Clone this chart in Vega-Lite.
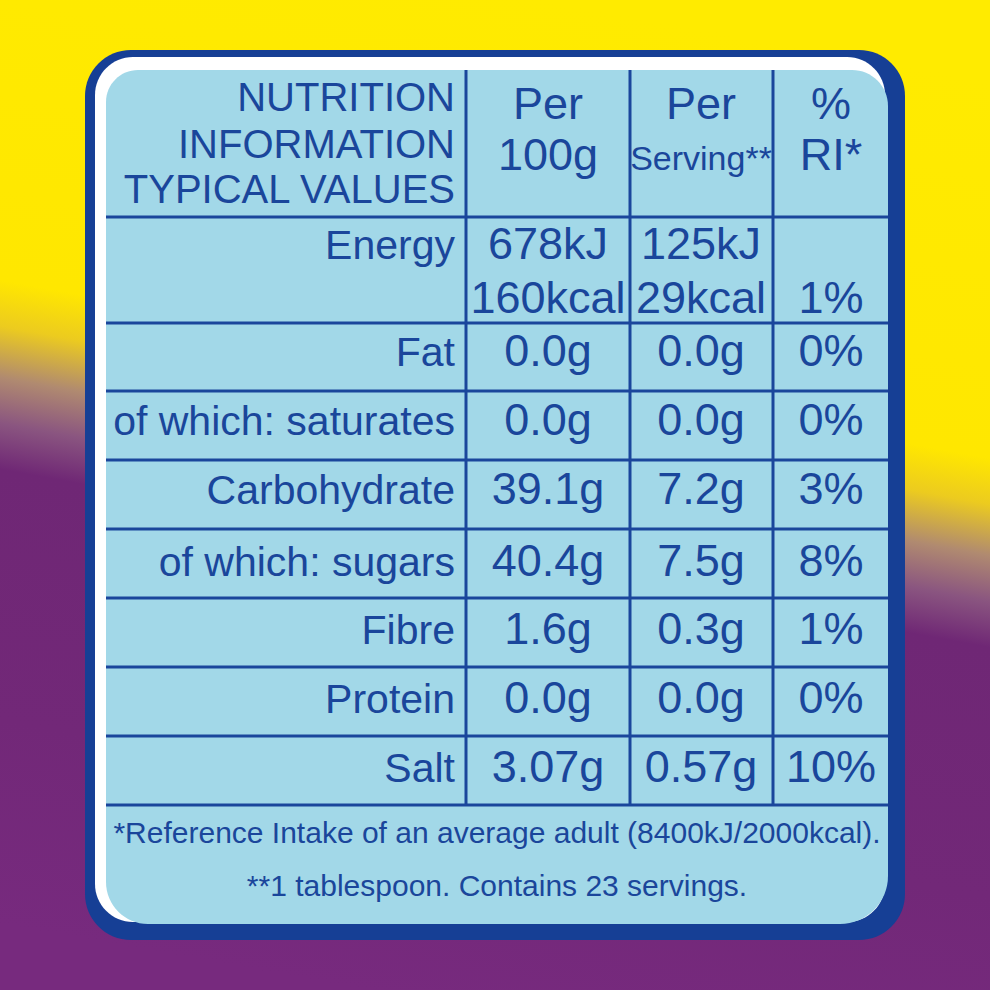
{
  "$schema": "https://vega.github.io/schema/vega-lite/v6.json",
  "width": 990,
  "height": 990,
  "padding": 0,
  "autosize": "none",
  "background": "#6f2775",
  "config": {"view": {"stroke": null}},
  "datasets": {
    "frame": [{"part": "label"}],
    "hlines": [{"edge": 4}, {"edge": 5}, {"edge": 6}, {"edge": 7}, {"edge": 8}, {"edge": 9}, {"edge": 10}, {"edge": 11}, {"edge": 12}],
    "vlines": [{"edge": 4}, {"edge": 5}, {"edge": 6}],
    "cells": [
      {"line": 0, "col": 0, "text": "NUTRITION"},
      {"line": 2, "col": 0, "text": "INFORMATION"},
      {"line": 4, "col": 0, "text": "TYPICAL VALUES"},
      {"line": 1, "col": 1, "text": "Per"},
      {"line": 3, "col": 1, "text": "100g"},
      {"line": 1, "col": 2, "text": "Per"},
      {"line": 3, "col": 2, "text": "Serving**"},
      {"line": 1, "col": 3, "text": "%"},
      {"line": 3, "col": 3, "text": "RI*"},
      {"line": 5, "col": 0, "text": "Energy"},
      {"line": 5, "col": 1, "text": "678kJ"},
      {"line": 6, "col": 1, "text": "160kcal"},
      {"line": 5, "col": 2, "text": "125kJ"},
      {"line": 6, "col": 2, "text": "29kcal"},
      {"line": 6, "col": 3, "text": "1%"},
      {"line": 7, "col": 0, "text": "Fat"},
      {"line": 7, "col": 1, "text": "0.0g"},
      {"line": 7, "col": 2, "text": "0.0g"},
      {"line": 7, "col": 3, "text": "0%"},
      {"line": 8, "col": 0, "text": "of which: saturates"},
      {"line": 8, "col": 1, "text": "0.0g"},
      {"line": 8, "col": 2, "text": "0.0g"},
      {"line": 8, "col": 3, "text": "0%"},
      {"line": 9, "col": 0, "text": "Carbohydrate"},
      {"line": 9, "col": 1, "text": "39.1g"},
      {"line": 9, "col": 2, "text": "7.2g"},
      {"line": 9, "col": 3, "text": "3%"},
      {"line": 10, "col": 0, "text": "of which: sugars"},
      {"line": 10, "col": 1, "text": "40.4g"},
      {"line": 10, "col": 2, "text": "7.5g"},
      {"line": 10, "col": 3, "text": "8%"},
      {"line": 11, "col": 0, "text": "Fibre"},
      {"line": 11, "col": 1, "text": "1.6g"},
      {"line": 11, "col": 2, "text": "0.3g"},
      {"line": 11, "col": 3, "text": "1%"},
      {"line": 12, "col": 0, "text": "Protein"},
      {"line": 12, "col": 1, "text": "0.0g"},
      {"line": 12, "col": 2, "text": "0.0g"},
      {"line": 12, "col": 3, "text": "0%"},
      {"line": 13, "col": 0, "text": "Salt"},
      {"line": 13, "col": 1, "text": "3.07g"},
      {"line": 13, "col": 2, "text": "0.57g"},
      {"line": 13, "col": 3, "text": "10%"},
      {"line": 14, "col": 4, "text": "*Reference Intake of an average adult (8400kJ/2000kcal)."},
      {"line": 15, "col": 4, "text": "**1 tablespoon. Contains 23 servings."}
    ]
  },
  "resolve": {"scale": {"x": "independent", "y": "independent"}},
  "layer": [
    {
      "data": {"name": "frame"},
      "mark": {"type": "rect", "color": {"gradient": "linear", "x1": 0.55, "y1": 0, "x2": 0.37, "y2": 1,
        "stops": [
          {"offset": 0, "color": "#ffeb00"},
          {"offset": 0.37, "color": "#ffe700"},
          {"offset": 0.415, "color": "#eccb1f"},
          {"offset": 0.465, "color": "#b08a70"},
          {"offset": 0.51, "color": "#8a5580"},
          {"offset": 0.555, "color": "#6f2775"},
          {"offset": 0.8, "color": "#722878"},
          {"offset": 1, "color": "#772a7e"}
        ]}},
      "encoding": {
        "x": {"datum": 0, "type": "quantitative", "axis": null, "scale": {"type": "linear", "domain": [0, 1, 2, 3, 4, 5, 6, 7, 8, 9, 10], "range": [0, 85, 95, 106, 466, 630, 773, 885, 888, 905, 990], "zero": false, "nice": false}},
        "x2": {"datum": 10},
        "y": {"datum": 0, "type": "quantitative", "axis": null, "scale": {"type": "linear", "domain": [0, 1, 2, 3, 4, 5, 6, 7, 8, 9, 10, 11, 12, 13, 14, 15, 16], "range": [0, 50, 57, 70, 217, 323, 391, 460, 529, 598, 667, 736, 805, 922, 924, 940, 990], "zero": false, "nice": false}},
        "y2": {"datum": 16}
      }
    },
    {
      "data": {"name": "frame"},
      "mark": {"type": "rect", "color": "#163f95", "cornerRadius": 46},
      "encoding": {
        "x": {"datum": 1, "type": "quantitative", "axis": null, "scale": {"type": "linear", "domain": [0, 1, 2, 3, 4, 5, 6, 7, 8, 9, 10], "range": [0, 85, 95, 106, 466, 630, 773, 885, 888, 905, 990], "zero": false, "nice": false}},
        "x2": {"datum": 9},
        "y": {"datum": 1, "type": "quantitative", "axis": null, "scale": {"type": "linear", "domain": [0, 1, 2, 3, 4, 5, 6, 7, 8, 9, 10, 11, 12, 13, 14, 15, 16], "range": [0, 50, 57, 70, 217, 323, 391, 460, 529, 598, 667, 736, 805, 922, 924, 940, 990], "zero": false, "nice": false}},
        "y2": {"datum": 15}
      }
    },
    {
      "data": {"name": "frame"},
      "mark": {"type": "rect", "color": "#ffffff", "cornerRadius": 38},
      "encoding": {
        "x": {"datum": 2, "type": "quantitative", "axis": null, "scale": {"type": "linear", "domain": [0, 1, 2, 3, 4, 5, 6, 7, 8, 9, 10], "range": [0, 85, 95, 106, 466, 630, 773, 885, 888, 905, 990], "zero": false, "nice": false}},
        "x2": {"datum": 7},
        "y": {"datum": 2, "type": "quantitative", "axis": null, "scale": {"type": "linear", "domain": [0, 1, 2, 3, 4, 5, 6, 7, 8, 9, 10, 11, 12, 13, 14, 15, 16], "range": [0, 50, 57, 70, 217, 323, 391, 460, 529, 598, 667, 736, 805, 922, 924, 940, 990], "zero": false, "nice": false}},
        "y2": {"datum": 13}
      }
    },
    {
      "data": {"name": "frame"},
      "mark": {"type": "rect", "color": "#a2d8e8", "cornerRadiusTopLeft": 32, "cornerRadiusTopRight": 36, "cornerRadiusBottomLeft": 42, "cornerRadiusBottomRight": 48},
      "encoding": {
        "x": {"datum": 3, "type": "quantitative", "axis": null, "scale": {"type": "linear", "domain": [0, 1, 2, 3, 4, 5, 6, 7, 8, 9, 10], "range": [0, 85, 95, 106, 466, 630, 773, 885, 888, 905, 990], "zero": false, "nice": false}},
        "x2": {"datum": 8},
        "y": {"datum": 3, "type": "quantitative", "axis": null, "scale": {"type": "linear", "domain": [0, 1, 2, 3, 4, 5, 6, 7, 8, 9, 10, 11, 12, 13, 14, 15, 16], "range": [0, 50, 57, 70, 217, 323, 391, 460, 529, 598, 667, 736, 805, 922, 924, 940, 990], "zero": false, "nice": false}},
        "y2": {"datum": 14}
      }
    },
    {
      "data": {"name": "hlines"},
      "mark": {"type": "rule", "color": "#1a469b", "strokeWidth": 3},
      "encoding": {
        "x": {"datum": 3, "type": "quantitative", "axis": null, "scale": {"type": "linear", "domain": [0, 1, 2, 3, 4, 5, 6, 7, 8, 9, 10], "range": [0, 85, 95, 106, 466, 630, 773, 885, 888, 905, 990], "zero": false, "nice": false}},
        "x2": {"datum": 8},
        "y": {"field": "edge", "type": "quantitative", "axis": null, "scale": {"type": "linear", "domain": [0, 1, 2, 3, 4, 5, 6, 7, 8, 9, 10, 11, 12, 13, 14, 15, 16], "range": [0, 50, 57, 70, 217, 323, 391, 460, 529, 598, 667, 736, 805, 922, 924, 940, 990], "zero": false, "nice": false}}
      }
    },
    {
      "data": {"name": "vlines"},
      "mark": {"type": "rule", "color": "#1a469b", "strokeWidth": 3},
      "encoding": {
        "x": {"field": "edge", "type": "quantitative", "axis": null, "scale": {"type": "linear", "domain": [0, 1, 2, 3, 4, 5, 6, 7, 8, 9, 10], "range": [0, 85, 95, 106, 466, 630, 773, 885, 888, 905, 990], "zero": false, "nice": false}},
        "y": {"datum": 3, "type": "quantitative", "axis": null, "scale": {"type": "linear", "domain": [0, 1, 2, 3, 4, 5, 6, 7, 8, 9, 10, 11, 12, 13, 14, 15, 16], "range": [0, 50, 57, 70, 217, 323, 391, 460, 529, 598, 667, 736, 805, 922, 924, 940, 990], "zero": false, "nice": false}},
        "y2": {"datum": 12}
      }
    },
    {
      "data": {"name": "cells"},
      "transform": [{"filter": "datum.col === 0"}],
      "mark": {"type": "text", "align": "right", "baseline": "alphabetic", "font": "Liberation Sans", "color": "#1a469b", "dx": -11},
      "encoding": {
        "x": {"field": "col", "type": "quantitative", "axis": null, "scale": {"type": "linear", "domain": [0, 1, 2, 3, 4], "range": [466, 548, 701, 831, 497], "zero": false, "nice": false}},
        "y": {"field": "line", "type": "quantitative", "axis": null, "scale": {"type": "linear", "domain": [0, 1, 2, 3, 4, 5, 6, 7, 8, 9, 10, 11, 12, 13, 14, 15], "range": [111, 119, 158, 170, 203, 259, 313, 366, 435, 504, 576, 644, 713, 782, 843, 896], "zero": false, "nice": false}},
        "size": {"condition": {"test": "datum.line < 5", "value": 40}, "value": 41},
        "text": {"field": "text"}
      }
    },
    {
      "data": {"name": "cells"},
      "transform": [{"filter": "datum.col > 0 && datum.col < 4"}],
      "mark": {"type": "text", "align": "center", "baseline": "alphabetic", "font": "Liberation Sans", "color": "#1a469b"},
      "encoding": {
        "x": {"field": "col", "type": "quantitative", "axis": null, "scale": {"type": "linear", "domain": [0, 1, 2, 3, 4], "range": [466, 548, 701, 831, 497], "zero": false, "nice": false}},
        "y": {"field": "line", "type": "quantitative", "axis": null, "scale": {"type": "linear", "domain": [0, 1, 2, 3, 4, 5, 6, 7, 8, 9, 10, 11, 12, 13, 14, 15], "range": [111, 119, 158, 170, 203, 259, 313, 366, 435, 504, 576, 644, 713, 782, 843, 896], "zero": false, "nice": false}},
        "size": {"condition": {"test": "datum.text === 'Serving**'", "value": 34}, "value": 45},
        "text": {"field": "text"}
      }
    },
    {
      "data": {"name": "cells"},
      "transform": [{"filter": "datum.col === 4"}],
      "mark": {"type": "text", "align": "center", "baseline": "alphabetic", "font": "Liberation Sans", "color": "#1a469b", "fontSize": 30},
      "encoding": {
        "x": {"field": "col", "type": "quantitative", "axis": null, "scale": {"type": "linear", "domain": [0, 1, 2, 3, 4], "range": [466, 548, 701, 831, 497], "zero": false, "nice": false}},
        "y": {"field": "line", "type": "quantitative", "axis": null, "scale": {"type": "linear", "domain": [0, 1, 2, 3, 4, 5, 6, 7, 8, 9, 10, 11, 12, 13, 14, 15], "range": [111, 119, 158, 170, 203, 259, 313, 366, 435, 504, 576, 644, 713, 782, 843, 896], "zero": false, "nice": false}},
        "text": {"field": "text"}
      }
    }
  ]
}
